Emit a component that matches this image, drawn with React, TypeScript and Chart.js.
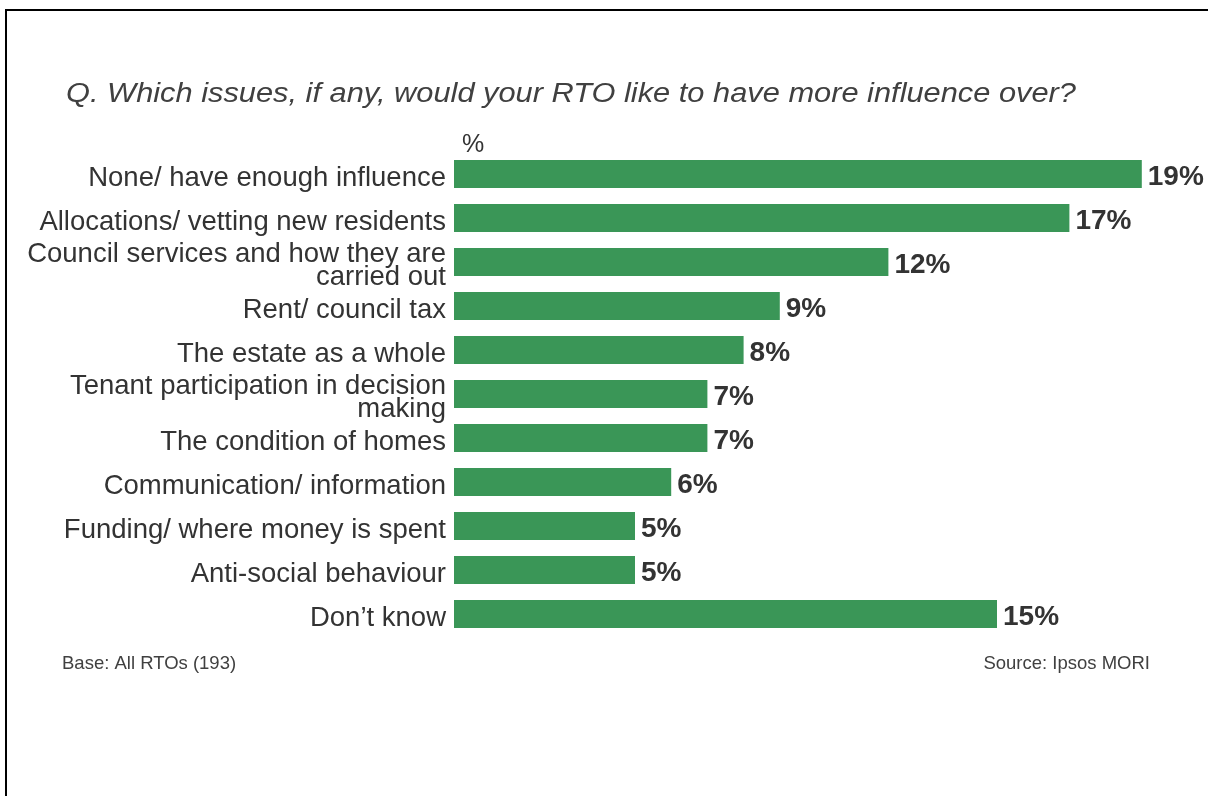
import React, { useEffect, useRef } from "react";
import { Chart, registerables } from "chart.js";

Chart.register(...registerables);

const categories: (string | string[])[] = [
  "None/ have enough influence",
  "Allocations/ vetting new residents",
  ["Council services and how they are", "carried out"],
  "Rent/ council tax",
  "The estate as a whole",
  ["Tenant participation in decision", "making"],
  "The condition of homes",
  "Communication/ information",
  "Funding/ where money is spent",
  "Anti-social behaviour",
  "Don\u2019t know",
];
const values = [19, 17, 12, 9, 8, 7, 7, 6, 5, 5, 15];
const valueLabels = values.map((v) => v + "%");
const titleText = "Q. Which issues, if any, would your RTO like to have more influence over?";
const baseNote = "Base: All RTOs (193)";
const sourceNote = "Source: Ipsos MORI";
const unitLabel = "%";

const FONT = "'Liberation Sans', Arial, sans-serif";
const TEXT = "#333333";
const GREEN = "#3A9657";

const overlayPlugin = {
  id: "overlay",
  afterDraw(chart: any) {
    const ctx = chart.ctx as CanvasRenderingContext2D;
    ctx.save();
    // frame
    ctx.fillStyle = "#000000";
    ctx.fillRect(5, 9, 1208, 2);
    ctx.fillRect(5, 9, 2, 800);

    // title (horizontally stretched to match the reference width)
    ctx.fillStyle = "#404040";
    ctx.font = `italic 27px ${FONT}`;
    ctx.textAlign = "left";
    ctx.textBaseline = "alphabetic";
    const tw = ctx.measureText(titleText).width;
    const sx = 1010 / tw;
    ctx.save();
    ctx.translate(66, 102);
    ctx.scale(sx, 1);
    ctx.fillText(titleText, 0, 0);
    ctx.restore();

    // unit label
    ctx.fillStyle = TEXT;
    ctx.font = `25px ${FONT}`;
    ctx.fillText(unitLabel, chart.chartArea.left + 8, 152);

    // value labels
    const meta = chart.getDatasetMeta(0);
    ctx.font = `bold 28px ${FONT}`;
    ctx.textBaseline = "middle";
    meta.data.forEach((bar: any, i: number) => {
      ctx.fillText(valueLabels[i], bar.x + 6, bar.y + 3);
    });

    // footnotes
    ctx.font = `18.5px ${FONT}`;
    ctx.fillStyle = "#404040";
    ctx.textBaseline = "alphabetic";
    ctx.textAlign = "left";
    ctx.fillText(baseNote, 62, 669);
    ctx.textAlign = "right";
    ctx.fillText(sourceNote, 1150, 669);
    ctx.restore();
  },
};

export default function App() {
  const ref = useRef<HTMLCanvasElement>(null);
  useEffect(() => {
    if (!ref.current) return;
    const chart = new Chart(ref.current, {
      type: "bar",
      data: {
        labels: categories,
        datasets: [
          {
            data: values,
            backgroundColor: GREEN,
            borderWidth: 0,
            categoryPercentage: 1,
            barPercentage: 0.64,
          },
        ],
      },
      options: {
        indexAxis: "y",
        responsive: false,
        animation: false,
        layout: { padding: { left: 0, top: 152, right: 30, bottom: 160 } },
        plugins: {
          legend: { display: false },
          tooltip: { enabled: false },
          title: { display: false },
        },
        scales: {
          x: { display: false, min: 0, max: 20 },
          y: {
            grid: { display: false },
            border: { display: false },
            ticks: {
              color: TEXT,
              padding: 0,
              autoSkip: false,
              labelOffset: 4,
              font: { family: FONT, size: 27.5, lineHeight: 0.85 },
            },
            afterFit: (s: any) => {
              s.width = 454;
            },
          },
        },
      },
      plugins: [overlayPlugin],
    });
    return () => chart.destroy();
  }, []);
  return (
    <div style={{ position: "fixed", left: 0, top: 0, width: 1208, height: 796, background: "#fff" }}>
      <canvas ref={ref} width={1208} height={796} style={{ width: 1208, height: 796, display: "block" }} />
    </div>
  );
}
